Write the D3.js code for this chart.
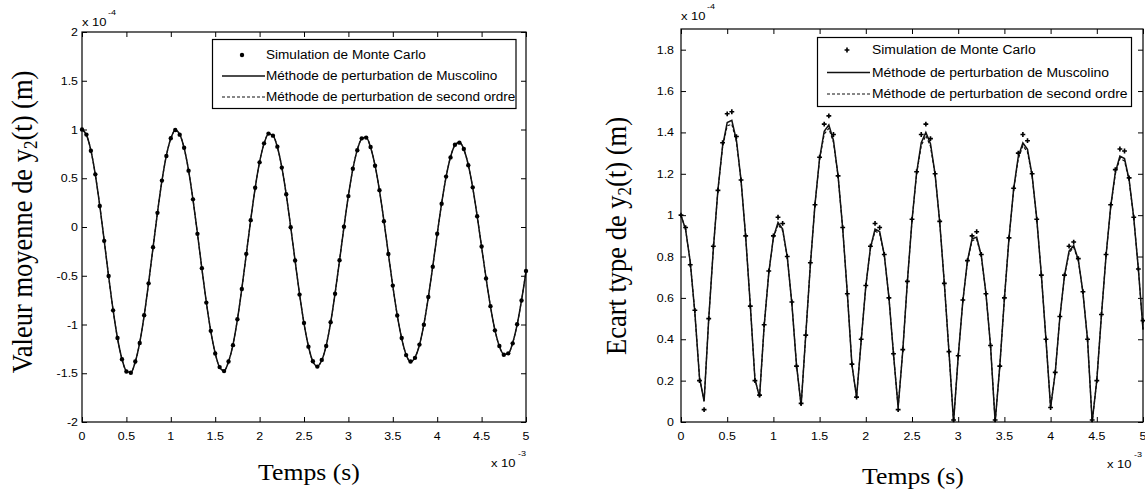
<!DOCTYPE html>
<html><head><meta charset="utf-8">
<script src="https://cdn.jsdelivr.net/npm/d3@7"></script>
<style>
body{margin:0;background:#fff}
svg{display:block}
text{fill:#000}
</style>
</head><body>
<svg id="c" width="1145" height="500"></svg>
<script>
// ---------- data (time in units of 1e-3 s, values in units of 1e-4 m) ----------
const timeMs = [0,0.05,0.1,0.15,0.2,0.25,0.3,0.35,0.4,0.45,0.5,0.55,0.6,0.65,0.7,0.75,0.8,0.85,0.9,0.95,
1,1.05,1.1,1.15,1.2,1.25,1.3,1.35,1.4,1.45,1.5,1.55,1.6,1.65,1.7,1.75,1.8,1.85,1.9,1.95,
2,2.05,2.1,2.15,2.2,2.25,2.3,2.35,2.4,2.45,2.5,2.55,2.6,2.65,2.7,2.75,2.8,2.85,2.9,2.95,
3,3.05,3.1,3.15,3.2,3.25,3.3,3.35,3.4,3.45,3.5,3.55,3.6,3.65,3.7,3.75,3.8,3.85,3.9,3.95,
4,4.05,4.1,4.15,4.2,4.25,4.3,4.35,4.4,4.45,4.5,4.55,4.6,4.65,4.7,4.75,4.8,4.85,4.9,4.95,5];

const meanMuscolino = [1.000,0.945,0.786,0.537,0.219,-0.139,-0.506,-0.850,-1.141,-1.354,
-1.478,-1.492,-1.383,-1.186,-0.909,-0.574,-0.211,0.148,0.472,0.732,
0.907,0.992,0.950,0.810,0.581,0.280,-0.066,-0.426,-0.771,-1.068,
-1.294,-1.440,-1.475,-1.382,-1.208,-0.950,-0.632,-0.280,0.073,0.399,
0.667,0.855,0.955,0.940,0.820,0.613,0.332,0.002,-0.348,-0.689,
-0.989,-1.223,-1.380,-1.428,-1.367,-1.216,-0.981,-0.681,-0.345,-0.001,
0.321,0.593,0.791,0.905,0.920,0.816,0.632,0.374,0.063,-0.273,
-0.605,-0.904,-1.143,-1.310,-1.382,-1.338,-1.210,-0.998,-0.722,-0.404,
-0.073,0.242,0.513,0.718,0.839,0.868,0.796,0.637,0.403,0.114,
-0.204,-0.523,-0.816,-1.056,-1.224,-1.306,-1.300,-1.189,-1.002,-0.750,
-0.454];

const meanSecondOrder = [1.000,0.945,0.786,0.537,0.219,-0.139,-0.506,-0.850,-1.141,-1.354,
-1.478,-1.492,-1.383,-1.186,-0.909,-0.574,-0.211,0.148,0.472,0.732,
0.907,0.992,0.950,0.810,0.581,0.280,-0.066,-0.426,-0.771,-1.068,
-1.294,-1.440,-1.475,-1.382,-1.208,-0.950,-0.632,-0.280,0.073,0.399,
0.667,0.855,0.955,0.940,0.820,0.613,0.332,0.002,-0.348,-0.689,
-0.989,-1.223,-1.380,-1.428,-1.367,-1.216,-0.981,-0.681,-0.345,-0.001,
0.321,0.593,0.791,0.905,0.920,0.816,0.632,0.374,0.063,-0.273,
-0.605,-0.904,-1.143,-1.310,-1.382,-1.338,-1.210,-0.998,-0.722,-0.404,
-0.073,0.242,0.513,0.718,0.839,0.868,0.796,0.637,0.403,0.114,
-0.204,-0.523,-0.816,-1.056,-1.224,-1.306,-1.300,-1.189,-1.002,-0.750,
-0.454];

const meanMC = [1.000,0.948,0.782,0.540,0.215,-0.142,-0.503,-0.855,-1.138,-1.357,
-1.482,-1.495,-1.380,-1.190,-0.905,-0.578,-0.207,0.145,0.476,0.728,
0.910,0.995,0.947,0.813,0.578,0.284,-0.070,-0.422,-0.775,-1.065,
-1.298,-1.437,-1.478,-1.379,-1.212,-0.946,-0.636,-0.276,0.070,0.403,
0.663,0.858,0.958,0.937,0.824,0.609,0.336,-0.002,-0.344,-0.693,
-0.985,-1.227,-1.377,-1.432,-1.363,-1.220,-0.977,-0.685,-0.341,0.003,
0.317,0.597,0.787,0.909,0.917,0.820,0.628,0.378,0.059,-0.277,
-0.601,-0.908,-1.139,-1.314,-1.379,-1.342,-1.206,-1.002,-0.718,-0.408,
-0.069,0.238,0.517,0.714,0.843,0.865,0.800,0.633,0.407,0.110,
-0.200,-0.527,-0.812,-1.060,-1.220,-1.310,-1.296,-1.193,-0.998,-0.754,
-0.450];

const stdMuscolino = [1.000,0.930,0.774,0.529,0.216,0.100,0.498,0.837,1.124,1.334,
1.448,1.458,1.362,1.168,0.895,0.565,0.208,0.120,0.465,0.721,
0.893,0.965,0.933,0.798,0.572,0.276,0.080,0.420,0.759,1.052,
1.275,1.406,1.436,1.361,1.190,0.936,0.623,0.276,0.120,0.393,
0.657,0.842,0.933,0.921,0.808,0.604,0.327,0.070,0.343,0.679,
0.974,1.205,1.350,1.400,1.346,1.198,0.966,0.671,0.340,0.000,
0.316,0.584,0.779,0.886,0.893,0.804,0.623,0.368,0.000,0.269,
0.596,0.890,1.126,1.283,1.349,1.318,1.192,0.983,0.711,0.398,
0.070,0.238,0.505,0.707,0.826,0.853,0.784,0.627,0.397,0.000,
0.201,0.515,0.804,1.040,1.206,1.286,1.274,1.171,0.987,0.739,
0.447];

const stdSecondOrder = [1.000,0.930,0.774,0.529,0.216,0.100,0.498,0.837,1.124,1.330,
1.432,1.440,1.355,1.168,0.895,0.565,0.208,0.120,0.465,0.721,
0.890,0.955,0.925,0.798,0.572,0.276,0.080,0.420,0.759,1.052,
1.270,1.392,1.420,1.352,1.190,0.936,0.623,0.276,0.120,0.393,
0.657,0.840,0.922,0.912,0.808,0.604,0.327,0.070,0.343,0.679,
0.974,1.200,1.336,1.385,1.333,1.195,0.966,0.671,0.340,0.000,
0.316,0.584,0.775,0.877,0.884,0.800,0.623,0.368,0.000,0.269,
0.596,0.890,1.122,1.272,1.336,1.305,1.188,0.983,0.711,0.398,
0.070,0.238,0.505,0.705,0.818,0.845,0.780,0.627,0.397,0.000,
0.201,0.515,0.804,1.036,1.198,1.274,1.262,1.166,0.987,0.739,
0.447];

const stdMC = [1.00,0.94,0.76,0.54,0.20,0.06,0.50,0.85,1.12,1.35,
1.49,1.50,1.38,1.17,0.90,0.56,0.20,0.13,0.47,0.73,
0.90,0.99,0.96,0.80,0.58,0.27,0.09,0.42,0.77,1.05,
1.28,1.44,1.48,1.39,1.19,0.94,0.62,0.28,0.12,0.40,
0.66,0.85,0.96,0.94,0.81,0.60,0.33,0.06,0.35,0.68,
0.98,1.21,1.39,1.44,1.37,1.20,0.97,0.67,0.34,0.01,
0.32,0.59,0.78,0.90,0.92,0.81,0.62,0.37,0.01,0.27,
0.60,0.89,1.13,1.30,1.39,1.36,1.20,0.98,0.71,0.40,
0.07,0.24,0.51,0.71,0.85,0.87,0.79,0.63,0.40,0.01,
0.20,0.52,0.81,1.05,1.22,1.32,1.31,1.18,0.99,0.74,
0.49];

const xTicks = [0,0.5,1,1.5,2,2.5,3,3.5,4,4.5,5];
const xTickLabels = ["0","0.5","1","1.5","2","2.5","3","3.5","4","4.5","5"];
const meanYTicks = [-2,-1.5,-1,-0.5,0,0.5,1,1.5,2];
const meanYTickLabels = ["-2","-1.5","-1","-0.5","0","0.5","1","1.5","2"];
const stdYTicks = [0,0.2,0.4,0.6,0.8,1,1.2,1.4,1.6,1.8];
const stdYTickLabels = ["0","0.2","0.4","0.6","0.8","1","1.2","1.4","1.6","1.8"];
const legendLabels = ["Simulation de Monte Carlo","Méthode de perturbation de Muscolino","Méthode de perturbation de second ordre"];
const xTitle = "Temps (s)";
const xExponent = "-3";
const yExponent = "-4";

// ---------- drawing ----------
const svg = d3.select("#c");
const SX = 1.13; // horizontal stretch of the original figure
const SANS = "'Liberation Sans', Arial, sans-serif";
const SERIF = "'Liberation Serif', 'Times New Roman', serif";

function stext(g, x, y, str, size, family, anchor) {
  return g.append("text")
    .attr("transform", `translate(${x},${y}) scale(${SX},1)`)
    .attr("text-anchor", anchor || "start")
    .style("font-family", family).style("font-size", size + "px")
    .text(str);
}

const panels = [
  { left: 82, right: 526, top: 32, bottom: 422, yDomain: [-2, 2],
    yTicks: meanYTicks, yLabels: meanYTickLabels,
    mc: meanMC, musc: meanMuscolino, second: meanSecondOrder,
    marker: "dot", curve: d3.curveMonotoneX, yPad: 4,
    yTitle: ["Valeur moyenne de y", "(t) (m)"], yTitlePos: [32, 222],
    xTitlePos: [309, 480],
    topExp: [82, 26], botExp: [491, 467],
    legend: { x0: 212.5, y0: 39.5, x1: 516, y1: 108.5, rows: [55, 76, 97], l0: 222, l1: 265, mx: 242, tx: 266, size: 12 } },
  { left: 681, right: 1143, top: 29, bottom: 422, yDomain: [0, 1.9],
    yTicks: stdYTicks, yLabels: stdYTickLabels,
    mc: stdMC, musc: stdMuscolino, second: stdSecondOrder,
    marker: "plus", curve: d3.curveLinear, yPad: 7,
    yTitle: ["Ecart type de y", "(t) (m)"], yTitlePos: [626, 236],
    xTitlePos: [913, 484],
    topExp: [681, 20], botExp: [1107, 468],
    legend: { x0: 817.5, y0: 37.5, x1: 1131.5, y1: 106.5, rows: [50, 72.5, 94], l0: 827, l1: 870, mx: 847, tx: 872, size: 12.3 } }
];

panels.forEach(p => {
  const g = svg.append("g");
  const x = d3.scaleLinear().domain([0, 5]).range([p.left, p.right]);
  const y = d3.scaleLinear().domain(p.yDomain).range([p.bottom, p.top]);

  // ticks (inward, on all four sides)
  const axes = [
    [d3.axisBottom(x).tickValues(xTicks), `translate(0,${p.bottom})`],
    [d3.axisTop(x).tickValues(xTicks), `translate(0,${p.top})`],
    [d3.axisLeft(y).tickValues(p.yTicks), `translate(${p.left},0)`],
    [d3.axisRight(y).tickValues(p.yTicks), `translate(${p.right},0)`]
  ];
  axes.forEach(([ax, tr]) => {
    const a = g.append("g").attr("transform", tr)
      .call(ax.tickSizeInner(-5).tickSizeOuter(0).tickFormat(""));
    a.select(".domain").remove();
    a.selectAll("line").attr("stroke", "#000").attr("stroke-width", 1);
  });

  // tick labels
  xTicks.forEach((v, i) => stext(g, x(v), 440, xTickLabels[i], 11, SANS, "middle"));
  p.yTicks.forEach((v, i) => stext(g, p.left - p.yPad, y(v) + 4, p.yLabels[i], 11, SANS, "end"));

  // data lines
  const pts = arr => arr.map((v, i) => [timeMs[i], v]);
  const line = d3.line().x(d => x(d[0])).y(d => y(d[1])).curve(p.curve);
  g.append("path").attr("d", line(pts(p.second)))
    .attr("fill", "none").attr("stroke", "#111").attr("stroke-width", 1.2)
    .attr("stroke-dasharray", "3,2");
  g.append("path").attr("d", line(pts(p.musc)))
    .attr("fill", "none").attr("stroke", "#111").attr("stroke-width", 1.5);

  // Monte Carlo markers
  const sym = p.marker === "dot" ? d3.symbol(d3.symbolCircle, 15) : d3.symbol(d3.symbolCross, 13);
  g.append("g").selectAll("path").data(pts(p.mc)).join("path")
    .attr("transform", d => `translate(${x(d[0])},${y(d[1])})`)
    .attr("d", sym()).attr("fill", "#000");

  // frame
  g.append("rect").attr("x", p.left).attr("y", p.top)
    .attr("width", p.right - p.left).attr("height", p.bottom - p.top)
    .attr("fill", "none").attr("stroke", "#000").attr("stroke-width", 1.2);

  // exponent labels
  stext(g, p.topExp[0], p.topExp[1], "x 10", 11.5, SANS);
  stext(g, p.topExp[0] + 26, p.topExp[1] - 11, yExponent, 8, SANS);
  stext(g, p.botExp[0], p.botExp[1], "x 10", 11.5, SANS);
  stext(g, p.botExp[0] + 27, p.botExp[1] - 11, xExponent, 8, SANS);

  // axis titles
  stext(g, p.xTitlePos[0], p.xTitlePos[1], xTitle, 22.8, SERIF, "middle");
  const yt = g.append("text")
    .attr("transform", `translate(${p.yTitlePos[0]},${p.yTitlePos[1]}) scale(${SX},1) rotate(-90)`)
    .attr("text-anchor", "middle")
    .style("font-family", SERIF).style("font-size", "26.5px");
  yt.append("tspan").text(p.yTitle[0]);
  yt.append("tspan").attr("dy", "0.25em").style("font-size", "17px").text("2");
  yt.append("tspan").attr("dy", "-0.17em").text(p.yTitle[1]);

  // legend
  const L = p.legend;
  g.append("rect").attr("x", L.x0).attr("y", L.y0).attr("width", L.x1 - L.x0).attr("height", L.y1 - L.y0)
    .attr("fill", "#fff").attr("stroke", "#000").attr("stroke-width", 1.2);
  g.append("path").attr("transform", `translate(${L.mx},${L.rows[0]})`).attr("d", sym()).attr("fill", "#000");
  g.append("line").attr("x1", L.l0).attr("x2", L.l1).attr("y1", L.rows[1]).attr("y2", L.rows[1])
    .attr("stroke", "#111").attr("stroke-width", 1.5);
  g.append("line").attr("x1", L.l0).attr("x2", L.l1).attr("y1", L.rows[2]).attr("y2", L.rows[2])
    .attr("stroke", "#111").attr("stroke-width", 1.2).attr("stroke-dasharray", "3,2");
  legendLabels.forEach((s, i) => stext(g, L.tx, L.rows[i] + 4, s, L.size, SANS));
});
</script>
</body></html>
